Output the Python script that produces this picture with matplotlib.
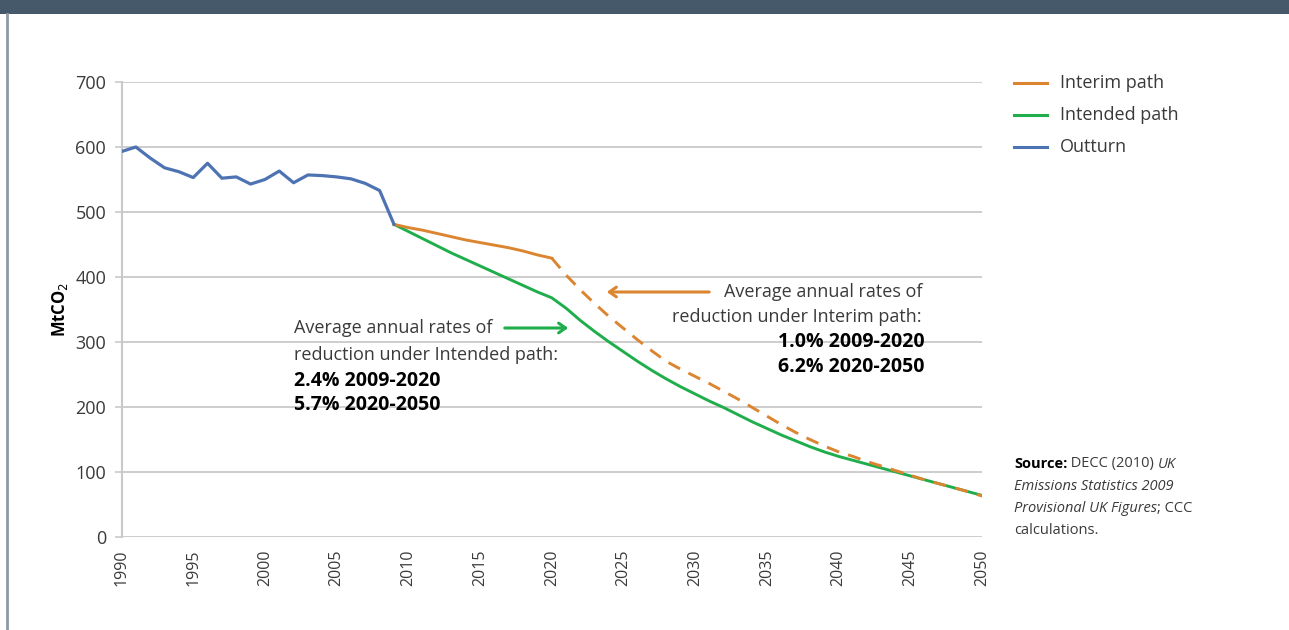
import matplotlib
matplotlib.use("Agg")
import matplotlib.pyplot as plt
from matplotlib.patches import Rectangle, FancyArrowPatch
from matplotlib.lines import Line2D

plt.rcParams['font.family'] = ['Open Sans', 'DejaVu Sans']

# ---- data ----
outturn_years = list(range(1990, 2010))
outturn = [593, 600, 583, 568, 562, 553, 575, 552, 554, 543,
           550, 563, 545, 557, 556, 554, 551, 544, 533, 481]

interim_years_a = list(range(2009, 2021))
interim_a = [481, 476, 472, 467, 462, 457, 453, 449, 445, 440, 434, 429]
interim_years_b = list(range(2020, 2051))
interim_b = [429, 403, 380, 359, 339, 321, 303, 286, 270, 258,
             247, 236, 224, 212, 199, 186, 173, 161, 150, 140,
             131, 124, 116, 109, 102, 95, 88, 82, 76, 70, 63]

intended_years = list(range(2009, 2051))
intended = [481, 470, 459, 448, 437, 427, 417, 407, 397, 387, 377,
            368, 352, 333, 316, 300, 285, 270, 256, 243, 231,
            220, 209, 199, 188, 177, 167, 157, 148, 139, 131,
            124, 118, 112, 106, 100, 94, 88, 82, 76, 70, 64]

xticks = list(range(1990, 2051, 5))
yticks = list(range(0, 701, 100))

c_interim = '#dc8531'
c_intended = '#1fae4b'
c_outturn = '#4e73b3'
c_grid = '#c9c9c9'
c_text = '#3a3a3a'

W, H = 1289, 630
fig = plt.figure(figsize=(W / 100, H / 100), dpi=100)
fig.patch.set_facecolor('white')

# header band and left frame line
fig.patches.append(Rectangle((0, 1 - 14 / H), 1, 14 / H, transform=fig.transFigure,
                             facecolor='#45596b', edgecolor='none', zorder=0))
fig.lines.append(Line2D([6.5 / W, 6.5 / W], [0, 1 - 14 / H], transform=fig.transFigure,
                        color='#8d99a4', lw=2))

x0, x1 = 121.5, 982
y0, y1 = 537, 82
ax = fig.add_axes([x0 / W, (H - y0) / H, (x1 - x0) / W, (y0 - y1) / H])
ax.set_xlim(1990, 2050)
ax.set_ylim(0, 700)

ax.set_yticks(yticks)
ax.set_xticks(xticks)
ax.set_xticklabels([str(v) for v in xticks], rotation=90, fontsize=11.5, color=c_text)
ax.set_yticklabels([str(v) for v in yticks], fontsize=13, color=c_text)
ax.tick_params(axis='x', length=0, pad=9)
ax.tick_params(axis='y', length=5, width=1.2, color=c_grid, pad=6)

for s in ['top', 'right', 'bottom']:
    ax.spines[s].set_visible(False)
ax.spines['left'].set_color(c_grid)
ax.spines['left'].set_linewidth(1.5)
ax.grid(axis='y', color=c_grid, lw=1.3)
ax.set_axisbelow(True)

ax.plot(intended_years, intended, color=c_intended, lw=2.1, zorder=3, solid_joinstyle='round')
ax.plot(interim_years_a, interim_a, color=c_interim, lw=2.1, zorder=4, solid_joinstyle='round')
ax.plot(interim_years_b, interim_b, color=c_interim, lw=2.1, zorder=4,
        linestyle=(0, (4.5, 3.2)))
ax.plot(outturn_years, outturn, color=c_outturn, lw=2.3, zorder=5, solid_joinstyle='round')

ax.set_ylabel('MtCO$_2$', fontsize=12, fontweight='bold', color='black', labelpad=4)

# legend (manual, in figure pixel coords)
leg = [('Interim path', c_interim, 83), ('Intended path', c_intended, 115), ('Outturn', c_outturn, 147)]
for label, col, yy in leg:
    fig.lines.append(Line2D([1014 / W, 1047 / W], [1 - yy / H, 1 - yy / H],
                            transform=fig.transFigure, color=col, lw=2.2))
    fig.text(1060 / W, 1 - yy / H, label, fontsize=13, color=c_text, va='center', ha='left')

# annotations
def ftxt(x, y, s, ha='left', bold=False):
    fig.text(x / W, 1 - y / H, s, fontsize=14 if bold else 13,
             color='black' if bold else c_text,
             fontweight='bold' if bold else 'normal', ha=ha, va='center')

ftxt(294, 328, 'Average annual rates of')
ftxt(294, 355, 'reduction under Intended path:')
ftxt(294, 381, '2.4% 2009-2020', bold=True)
ftxt(294, 405, '5.7% 2020-2050', bold=True)
fig.add_artist(FancyArrowPatch(
    (502 / W, 1 - 328 / H), (571 / W, 1 - 328 / H), transform=fig.transFigure,
    arrowstyle='->,head_length=5,head_width=3.5', color=c_intended, lw=2.2))

ftxt(922, 292, 'Average annual rates of', ha='right')
ftxt(922, 317, 'reduction under Interim path:', ha='right')
ftxt(925, 342, '1.0% 2009-2020', ha='right', bold=True)
ftxt(925, 367, '6.2% 2020-2050', ha='right', bold=True)
fig.add_artist(FancyArrowPatch(
    (712 / W, 1 - 292 / H), (604 / W, 1 - 292 / H), transform=fig.transFigure,
    arrowstyle='->,head_length=5,head_width=3.5', color=c_interim, lw=2.2))

# source note, pieces laid out one after another
src_fs = 10.5
renderer = fig.canvas.get_renderer()


def line_pieces(y, pieces):
    x = 1014.0
    for s, kw in pieces:
        t = fig.text(x / W, 1 - y / H, s, fontsize=src_fs, va='center', ha='left', **kw)
        bb = t.get_window_extent(renderer=renderer)
        x += bb.width


norm = dict(color=c_text)
ital = dict(color=c_text, style='italic')
line_pieces(464, [('Source:', dict(color='black', fontweight='bold')),
                  (' DECC (2010) ', norm), ('UK', ital)])
line_pieces(487, [('Emissions Statistics 2009', ital)])
line_pieces(509, [('Provisional UK Figures', ital), ('; CCC', norm)])
line_pieces(530, [('calculations.', norm)])

fig.savefig('out.png', dpi=100, facecolor='white')
